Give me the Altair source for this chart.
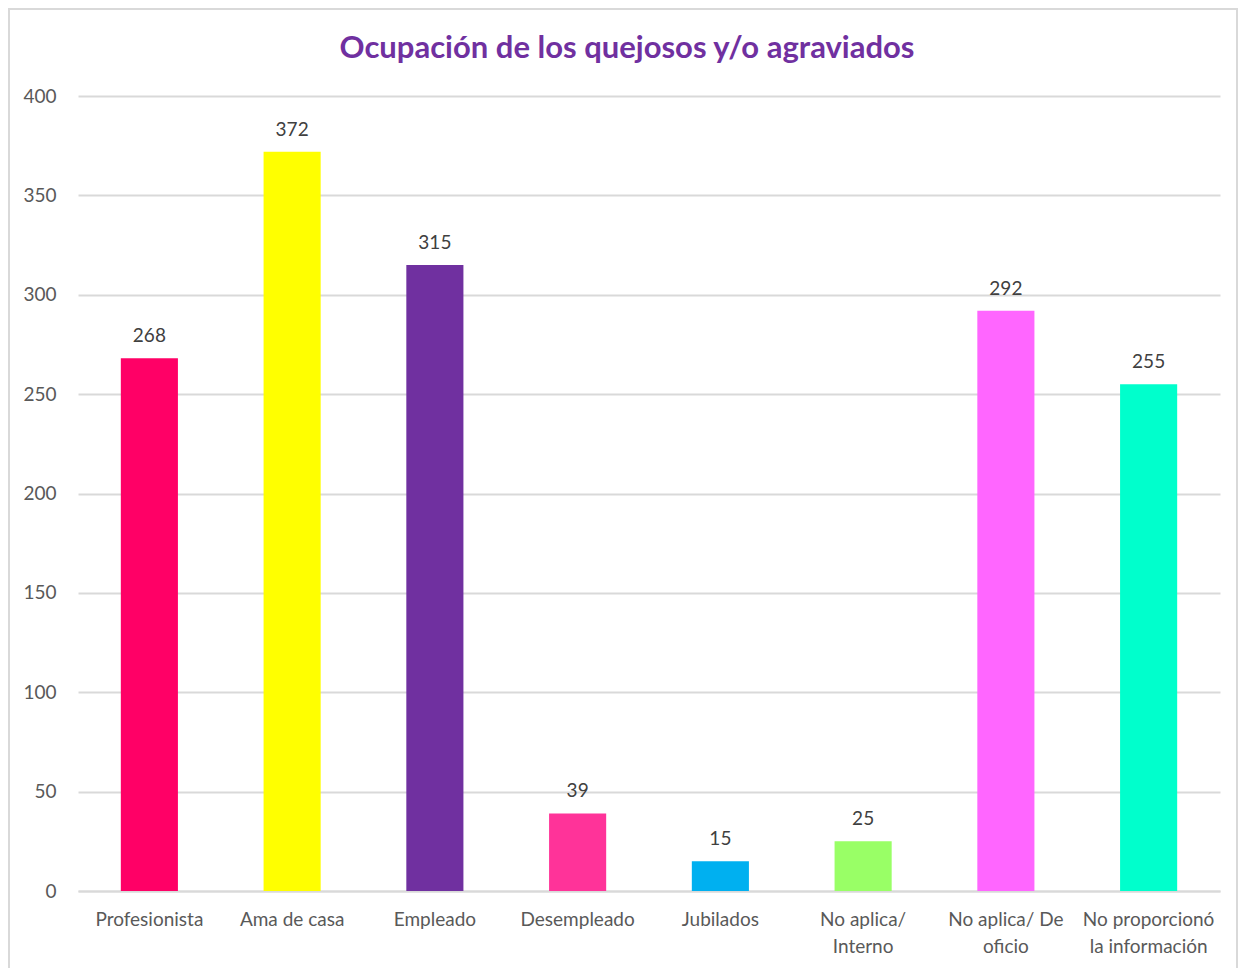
import altair as alt
import pandas as pd

title_text = "Ocupación de los quejosos y/o agraviados"
categories = ["Profesionista", "Ama de casa", "Empleado", "Desempleado", "Jubilados",
              "No aplica/\nInterno", "No aplica/ De\noficio", "No proporcionó\nla información"]
values = [268, 372, 315, 39, 15, 25, 292, 255]
colors = ["#FF0066", "#FFFF00", "#7030A0", "#FF3399", "#00B0F0", "#99FF66", "#FF66FF", "#00FFCC"]

df = pd.DataFrame({"cat": categories, "val": values})

FONT = "Lato"

x = alt.X("cat:N", sort=categories, title=None,
          scale=alt.Scale(paddingInner=0.6, paddingOuter=0.3),
          axis=alt.Axis(labelAngle=0, ticks=False, domainColor="#D9D9D9", domainWidth=2,
                        labelPadding=19, labelFontSize=19, labelColor="#595959",
                        labelFont=FONT, labelLineHeight=27,
                        labelExpr="split(datum.label, '\\n')"))
y = alt.Y("val:Q", title=None,
          scale=alt.Scale(domain=[0, 400], nice=False),
          axis=alt.Axis(values=list(range(0, 401, 50)), ticks=False, domain=False,
                        gridColor="#D9D9D9", gridWidth=2, labelPadding=22,
                        labelFontSize=19, labelColor="#595959", labelFont=FONT))

bars = alt.Chart(df).mark_bar().encode(
    x=x, y=y,
    color=alt.Color("cat:N", sort=categories, scale=alt.Scale(domain=categories, range=colors), legend=None),
)
labels = alt.Chart(df).mark_text(baseline="bottom", dy=-12, fontSize=19, font=FONT, color="#404040").encode(
    x=alt.X("cat:N", sort=categories), y="val:Q", text="val:Q")

one = alt.Data(values=[{"a": 1}])
frame = alt.Chart(one).mark_rect(filled=False, stroke="#D9D9D9", strokeWidth=2).encode(
    x=alt.value(-69), x2=alt.value(1159), y=alt.value(-87), y2=alt.value(880))
title = alt.Chart(one).mark_text(font=FONT, fontSize=31, fontWeight="bold", color="#7030A0",
                                 baseline="middle", align="center").encode(
    x=alt.value(549), y=alt.value(-47), text=alt.value(title_text))

chart = alt.layer(frame, bars, labels, title).properties(
    width=1142, height=795,
    padding={"left": 0, "top": 0, "right": 0, "bottom": 0},
).configure_view(stroke=None)

chart.save("out.html", embed_options={"renderer": "svg", "actions": False})
